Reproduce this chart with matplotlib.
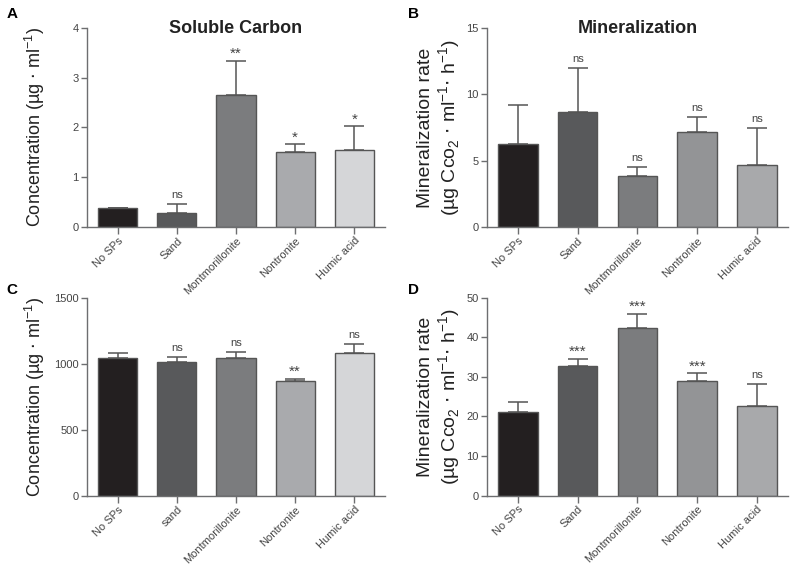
import matplotlib.pyplot as plt
import numpy as np

plt.rcParams["font.family"] = ["Liberation Sans", "DejaVu Sans"]

# categories
labels_ab = ["No SPs", "Sand", "Montmorillonite", "Nontronite", "Humic acid"]
labels_c = ["No SPs", "sand", "Montmorillonite", "Nontronite", "Humic acid"]
labels_d = ["No SPs", "Sand", "Montmorillonite", "Nontronite", "Humic acid"]

# A: soluble carbon
carbon_mean = [0.38, 0.28, 2.64, 1.51, 1.54]
carbon_err = [0.0, 0.18, 0.70, 0.15, 0.48]
carbon_sig = ["", "ns", "**", "*", "*"]

# B: mineralization
mineral_mean = [6.25, 8.67, 3.81, 7.13, 4.71]
mineral_err = [2.93, 3.30, 0.68, 1.14, 2.73]
mineral_sig = ["", "ns", "ns", "ns", "ns"]

# C: concentration
conc_mean = [1042, 1017, 1042, 870, 1083]
conc_err = [38, 35, 46, 20, 68]
conc_sig = ["", "ns", "ns", "**", "ns"]

# D: mineralization rate
rate_mean = [21.0, 32.7, 42.4, 29.0, 22.7]
rate_err = [2.6, 1.8, 3.5, 1.9, 5.5]
rate_sig = ["", "***", "***", "***", "ns"]

colors_ac = ["#231f20", "#58595b", "#7b7c7e", "#a9aaad", "#d5d6d8"]
colors_bd = ["#231f20", "#58595b", "#7b7c7e", "#939496", "#a8a9ab"]

fig = plt.figure(figsize=(7.93, 5.65), dpi=100)

positions = {
    "A": [0.1097, 0.598, 0.3758, 0.353],
    "B": [0.614, 0.598, 0.3796, 0.353],
    "C": [0.1097, 0.1221, 0.3758, 0.3504],
    "D": [0.614, 0.123, 0.3796, 0.350],
}

conc_label = r"Concentration (µg $\cdot$ ml$^{\mathregular{-1}}$)"
rate_label = "Mineralization rate\n" + r"(µg Cco$_{\mathregular{2}}$ $\cdot$ ml$^{\mathregular{-1}}$$\cdot$ h$^{\mathregular{-1}}$)"

panels = [
    ("A", labels_ab, carbon_mean, carbon_err, carbon_sig, colors_ac, 4, [0, 1, 2, 3, 4], conc_label, "Soluble Carbon"),
    ("B", labels_ab, mineral_mean, mineral_err, mineral_sig, colors_bd, 15, [0, 5, 10, 15], rate_label, "Mineralization"),
    ("C", labels_c, conc_mean, conc_err, conc_sig, colors_ac, 1500, [0, 500, 1000, 1500], conc_label, None),
    ("D", labels_d, rate_mean, rate_err, rate_sig, colors_bd, 50, [0, 10, 20, 30, 40, 50], rate_label, None),
]

axis_gray = "#6d6e70"
for name, labels, mean, err, sig, cols, ymax, yticks, ylab, title in panels:
    ax = fig.add_axes(positions[name])
    x = np.arange(len(labels))
    ax.bar(x, mean, width=0.66, color=cols, edgecolor="#555555", linewidth=1.0, zorder=2)
    ax.errorbar(x, mean, yerr=[np.zeros(len(err)), err], fmt="none", ecolor="#555555",
                elinewidth=1.1, capsize=7, capthick=1.1, zorder=1)
    for xi, m, e, s in zip(x, mean, err, sig):
        if s:
            fs = 8 if s == "ns" else 11
            off = 3 if s == "ns" else 0
            ax.annotate(s, (xi, m + e), xytext=(0, off), textcoords="offset points",
                        ha="center", va="bottom", fontsize=fs, color="#444444")
    ax.set_xlim(-0.52, 4.52)
    ax.set_ylim(0, ymax)
    ax.set_yticks(yticks)
    ax.set_xticks(x)
    ax.set_xticklabels(labels, rotation=45, ha="right", rotation_mode="anchor", fontsize=8, color="#444444")
    ax.tick_params(axis="y", labelsize=8, labelcolor="#444444", color=axis_gray, length=4, width=1, pad=2)
    ax.tick_params(axis="x", color=axis_gray, length=5, width=1, pad=1)
    for sp in ["top", "right"]:
        ax.spines[sp].set_visible(False)
    for sp in ["left", "bottom"]:
        ax.spines[sp].set_color(axis_gray)
        ax.spines[sp].set_linewidth(1.0)
    if name in ("A", "C"):
        ax.set_ylabel(ylab, fontsize=13, color="#222222")
        ax.yaxis.set_label_coords(-0.135, 0.5)
    else:
        ax.set_ylabel(ylab, fontsize=14, color="#222222", linespacing=1.1)
        ax.yaxis.set_label_coords(-0.08, 0.5)
    if title:
        ax.set_title(title, fontsize=13, fontweight="bold", color="#222222", pad=-4, y=1.0)

fig.text(0.008, 0.988, "A", fontsize=11, fontweight="bold", va="top")
fig.text(0.515, 0.988, "B", fontsize=11, fontweight="bold", va="top")
fig.text(0.008, 0.5, "C", fontsize=11, fontweight="bold", va="top")
fig.text(0.515, 0.5, "D", fontsize=11, fontweight="bold", va="top")

fig.savefig("out.png", dpi=100)
